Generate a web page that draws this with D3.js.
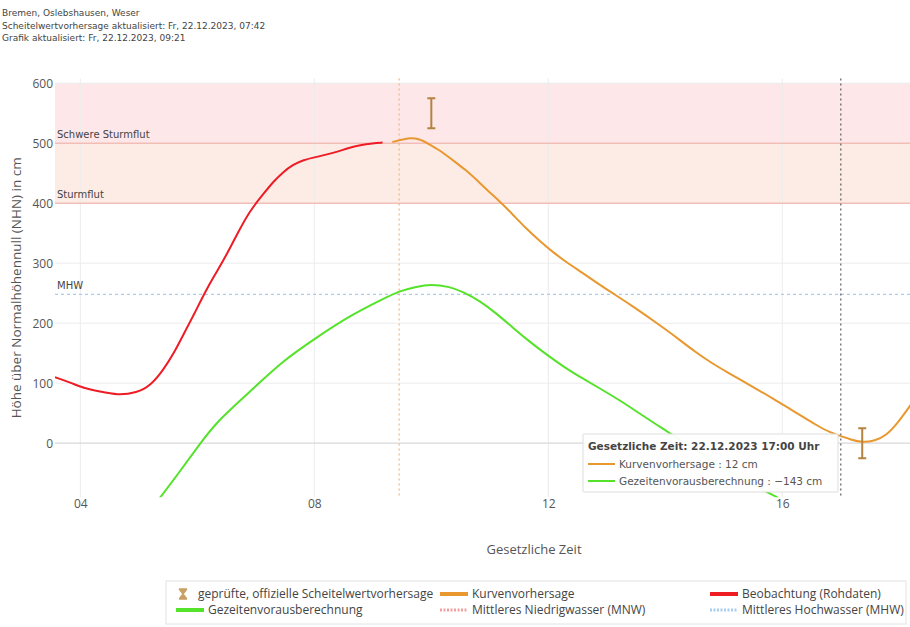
<!DOCTYPE html>
<html><head><meta charset="utf-8">
<script src="https://cdn.jsdelivr.net/npm/d3@7/dist/d3.min.js"></script>
<style>
html,body{margin:0;padding:0;background:#fff;}
svg{display:block;}
</style></head>
<body>
<svg id="chart" width="910" height="627"></svg>
<script>
// ---- data ----
const headerLines = ["Bremen, Oslebshausen, Weser",
  "Scheitelwertvorhersage aktualisiert: Fr, 22.12.2023, 07:42",
  "Grafik aktualisiert: Fr, 22.12.2023, 09:21"];
const xTicks = ["04:00","08:00","12:00","16:00"];
const yTicks = [0,100,200,300,400,500,600];
const xRange = ["03:34","18:11"];
const yRange = [-90, 608];

const beobachtungTime = ["03:34","03:50","04:03","04:20","04:38","04:58","05:12","05:25","05:36","05:46","05:57","06:07","06:17","06:27","06:40","06:54","07:08","07:18","07:28","07:38","07:48","08:05","08:20","08:35","08:47","09:00","09:10"];
const beobachtungValue = [110,101,92,86,80,84,96,122,150,182,216,249,278,305,346,388,416,436,452,464,472,478,484,492,497,500,501];

const kurveTime = ["09:20","09:30","09:38","09:48","09:56","10:10","10:20","10:35","10:47","11:00","11:10","11:22","11:37","11:52","12:05","12:20","12:35","12:50","13:07","13:25","13:41","14:00","14:15","14:30","14:48","15:05","15:20","15:35","15:50","16:05","16:20","16:35","16:50","17:00","17:10","17:22","17:35","17:47","17:58","18:08","18:15"];
const kurveValue = [502,506,509,507,500,487,474,456,438,418,403,384,358,336,318,300,284,267,249,230,212,190,172,153,133,117,103,89,75,60,45,30,17,12,6,1,4,13,33,55,72];

const gezeitenTime = ["05:15","05:40","06:03","06:20","06:54","07:28","08:03","08:37","09:11","09:28","09:45","09:59","10:19","10:33","10:50","11:07","11:24","11:41","11:58","12:16","12:33","12:50","13:14","13:34","13:52","14:08","14:30","15:00","15:30","15:48","16:15","16:40","17:00","17:20"];
const gezeitenValue = [-105,-52,0,36,86,138,177,213,241,254,261,265,261,252,237,216,192,169,148,127,110,94,71,49,30,13,-10,-42,-70,-84,-108,-128,-143,-150];

const scheitelTime = ["10:00","17:22"];
const scheitelLow = [525,-25];
const scheitelHigh = [575,25];

const mhwValue = 248;
const stormLevels = [400,500];
const stormLabels = ["Sturmflut","Schwere Sturmflut"];
const updateTime = "09:27";
const hoverTime = "17:00";
const tooltipTitle = "Gesetzliche Zeit: 22.12.2023 17:00 Uhr";
const tooltipRows = [["Kurvenvorhersage : 12 cm","orange"],["Gezeitenvorausberechnung : \u2212143 cm","green"]];
const legendItems = [
  ["geprüfte, offizielle Scheitelwertvorhersage","hourglass"],
  ["Kurvenvorhersage","orange"],
  ["Beobachtung (Rohdaten)","red"],
  ["Gezeitenvorausberechnung","green"],
  ["Mittleres Niedrigwasser (MNW)","mnw"],
  ["Mittleres Hochwasser (MHW)","mhw"]];

// ---- setup ----
const C = {orange:"#e8982e", red:"#ee1c25", green:"#55e22a", err:"#b5823f", hour:"#c9a064",
  mnw:"#f5a0a0", mhw:"#a8cdf0"};
const toDate = s => { const [h,m]=s.split(":").map(Number); return new Date(2023,11,22,h,m); };
const svg = d3.select("#chart");
const left=55, right=910;
const x = d3.scaleTime().domain(xRange.map(toDate)).range([left,right]);
const y = d3.scaleLinear().domain(yRange).range([497.2, 78.4]);
const plotTop = y(yRange[1]), plotBottom = y(yRange[0]);
const FONT = "'Open Sans', sans-serif";

// header
svg.append("g").selectAll("text").data(headerLines).join("text")
  .attr("x",2).attr("y",(d,i)=>16+i*12.5)
  .attr("font-family","'DejaVu Sans', Verdana, sans-serif").attr("font-size",9)
  .attr("fill","#444").text(d=>d);

svg.append("defs").append("clipPath").attr("id","clip")
  .append("rect").attr("x",left).attr("y",plotTop).attr("width",right-left).attr("height",plotBottom-plotTop);

// bands
const bandG = svg.append("g");
bandG.append("rect").attr("x",left).attr("width",right-left)
  .attr("y",y(600)).attr("height",y(500)-y(600)).attr("fill","#fde7e9");
bandG.append("rect").attr("x",left).attr("width",right-left)
  .attr("y",y(500)).attr("height",y(400)-y(500)).attr("fill","#fdece6");

// grid
const grid = svg.append("g");
grid.selectAll("line.v").data(xTicks).join("line")
  .attr("x1",d=>x(toDate(d))).attr("x2",d=>x(toDate(d)))
  .attr("y1",plotTop).attr("y2",plotBottom).attr("stroke","#ececec").attr("stroke-width",1);
grid.selectAll("line.h").data(yTicks.filter(v=>v!==0)).join("line")
  .attr("x1",left).attr("x2",right).attr("y1",d=>y(d)).attr("y2",d=>y(d))
  .attr("stroke","#ececec").attr("stroke-width",1);
grid.append("line").attr("x1",left).attr("x2",right).attr("y1",y(0)).attr("y2",y(0))
  .attr("stroke","#d8d8d8").attr("stroke-width",1.2);

// storm lines + labels
stormLevels.forEach((v,i)=>{
  svg.append("line").attr("x1",left).attr("x2",right).attr("y1",y(v)).attr("y2",y(v))
    .attr("stroke","#f2a79c").attr("stroke-width",1);
  svg.append("text").attr("x",57).attr("y",y(v)-5).attr("font-family","'DejaVu Sans', sans-serif")
    .attr("font-size",10).attr("fill","#444").text(stormLabels[i]);
});
// MHW
svg.append("line").attr("x1",left).attr("x2",right).attr("y1",y(mhwValue)).attr("y2",y(mhwValue))
  .attr("stroke",C.mhw).attr("stroke-width",1.2).attr("stroke-dasharray","3,3");
svg.append("text").attr("x",57).attr("y",y(mhwValue)-5).attr("font-family","'DejaVu Sans', sans-serif")
  .attr("font-size",10).attr("fill","#444").text("MHW");

// axes
const yAxis = d3.axisLeft(y).tickValues(yTicks).tickSize(0).tickPadding(0).tickFormat(d3.format("d"));
const ya = svg.append("g").attr("transform",`translate(${left-2},0)`).call(yAxis);
ya.select(".domain").remove();
ya.selectAll("text").attr("font-family",FONT).attr("font-size",12).attr("fill","#555");
const xAxis = d3.axisBottom(x).tickValues(xTicks.map(toDate)).tickSize(0).tickPadding(0).tickFormat(d3.timeFormat("%H"));
const xa = svg.append("g").attr("transform",`translate(0,${plotBottom})`).call(xAxis);
xa.select(".domain").remove();
xa.selectAll("text").attr("font-family",FONT).attr("font-size",12).attr("fill","#555").attr("dy","0.9em");

svg.append("text").attr("transform",`translate(21,${(plotTop+plotBottom)/2}) rotate(-90)`)
  .attr("text-anchor","middle").attr("font-family",FONT).attr("font-size",13.5).attr("fill","#555")
  .text("Höhe über Normalhöhennull (NHN) in cm");
svg.append("text").attr("x",534).attr("y",554).attr("text-anchor","middle")
  .attr("font-family",FONT).attr("font-size",13).attr("fill","#555").text("Gesetzliche Zeit");

// vertical marker lines
svg.append("line").attr("x1",x(toDate(updateTime))).attr("x2",x(toDate(updateTime)))
  .attr("y1",plotTop).attr("y2",plotBottom).attr("stroke","#f0b57a").attr("stroke-width",1.2).attr("stroke-dasharray","2,3");
svg.append("line").attr("x1",x(toDate(hoverTime))).attr("x2",x(toDate(hoverTime)))
  .attr("y1",plotTop).attr("y2",plotBottom).attr("stroke","#666").attr("stroke-width",1.3).attr("stroke-dasharray","2,3");

// series
const plot = svg.append("g").attr("clip-path","url(#clip)");
const line = d3.line().x(d=>x(toDate(d[0]))).y(d=>y(d[1])).curve(d3.curveBasis);
const series = [[gezeitenTime,gezeitenValue,C.green],[beobachtungTime,beobachtungValue,C.red],[kurveTime,kurveValue,C.orange]];
series.forEach(([t,v,c])=>{
  plot.append("path").datum(d3.zip(t,v)).attr("d",line).attr("fill","none")
    .attr("stroke",c).attr("stroke-width",2).attr("stroke-linejoin","round");
});
// error bars
const eb = plot.append("g").attr("stroke",C.err).attr("stroke-width",2);
scheitelTime.forEach((t,i)=>{
  const cx = x(toDate(t));
  eb.append("line").attr("x1",cx).attr("x2",cx).attr("y1",y(scheitelLow[i])).attr("y2",y(scheitelHigh[i]));
  [scheitelLow[i],scheitelHigh[i]].forEach(v=>eb.append("line").attr("x1",cx-4).attr("x2",cx+4).attr("y1",y(v)).attr("y2",y(v)));
});

// tooltip
const tip = svg.append("g").attr("transform","translate(583,434)");
tip.append("rect").attr("width",255).attr("height",58).attr("fill","rgba(255,255,255,0.95)")
  .attr("stroke","#ddd").attr("stroke-width",1).attr("rx",1);
tip.append("text").attr("x",5).attr("y",16).attr("font-family","'DejaVu Sans', sans-serif")
  .attr("font-weight","bold").attr("font-size",10.5).attr("fill","#444").text(tooltipTitle);
tooltipRows.forEach((r,i)=>{
  const yy = 30+i*17;
  tip.append("line").attr("x1",5).attr("x2",32).attr("y1",yy).attr("y2",yy).attr("stroke",C[r[1]]).attr("stroke-width",2);
  tip.append("text").attr("x",36).attr("y",yy+4).attr("font-family","'DejaVu Sans', sans-serif")
    .attr("font-size",10.5).attr("fill","#555").text(r[0]);
});

// legend
const lg = svg.append("g").attr("transform","translate(166,581)");
lg.append("rect").attr("width",740).attr("height",43).attr("fill","#fff").attr("stroke","#e2e2e2");
const colX = [8,272,542];
legendItems.forEach((it,i)=>{
  const col = i%3, row = Math.floor(i/3);
  const gx = colX[col], gy = 13+row*16;
  const g = lg.append("g").attr("transform",`translate(${gx},${gy})`);
  const type = it[1];
  let tx = 34;
  if(type==="hourglass"){
    g.append("path").attr("d","M5,-5 L13,-5 M5,5 L13,5 M6,-4 L12,-4 L9,0 Z M6,4 L12,4 L9,0 Z")
      .attr("stroke",C.hour).attr("stroke-width",1.5).attr("fill",C.hour);
    tx = 24;
  } else if(type==="mnw" || type==="mhw"){
    g.append("line").attr("x1",2).attr("x2",30).attr("y1",0).attr("y2",0).attr("stroke",C[type])
      .attr("stroke-width",3).attr("stroke-dasharray","2,1.5");
  } else {
    g.append("line").attr("x1",2).attr("x2",30).attr("y1",0).attr("y2",0).attr("stroke",C[type]).attr("stroke-width",4);
  }
  g.append("text").attr("x",tx).attr("y",4).attr("font-family",FONT).attr("font-size",12).attr("fill","#444").text(it[0]);
});
</script>
</body></html>
